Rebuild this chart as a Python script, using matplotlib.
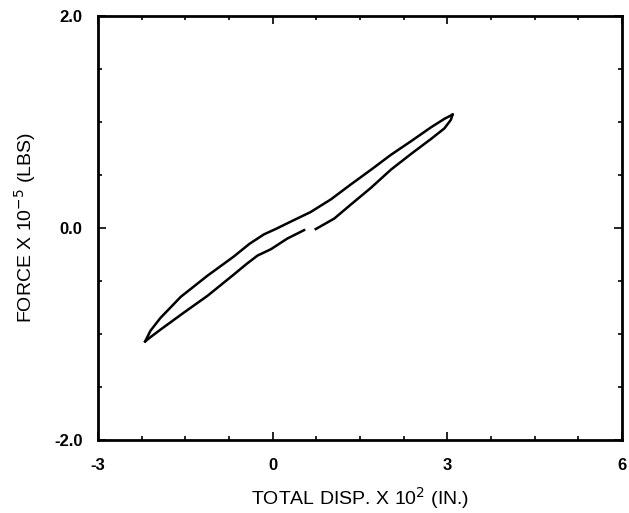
import numpy as np
import matplotlib
matplotlib.use('Agg')
import matplotlib.pyplot as plt
from matplotlib.ticker import MultipleLocator, FixedLocator, FormatStrFormatter

plt.rcParams['font.family'] = ['Liberation Sans', 'DejaVu Sans']
plt.rcParams['axes.unicode_minus'] = False

# loading branch (lower-left tip up to upper-right tip)
up_x = [-2.19, -2.10, -1.93, -1.58, -1.12, -0.67, -0.40, -0.15, 0.05, 0.31,
        0.65, 1.00, 1.34, 1.69, 2.03, 2.38, 2.72, 2.95, 3.09]
up_f = [-1.07, -0.97, -0.85, -0.65, -0.45, -0.27, -0.15, -0.06, -0.01, 0.06,
        0.15, 0.27, 0.41, 0.55, 0.69, 0.82, 0.95, 1.03, 1.07]

# unloading branch, upper-right tip back down (pen lifted near x=0.6)
dn_x = [3.09, 3.06, 2.95, 2.72, 2.38, 2.03, 1.69, 1.34, 1.06, 0.74,
        np.nan,
        0.54, 0.25, -0.03, -0.26, -0.45, -0.67, -1.12, -1.53, -1.93, -2.10, -2.19]
dn_f = [1.07, 1.02, 0.94, 0.84, 0.70, 0.55, 0.38, 0.22, 0.09, -0.01,
        np.nan,
        -0.02, -0.10, -0.20, -0.26, -0.34, -0.44, -0.64, -0.80, -0.96, -1.03, -1.07]

fig = plt.figure(figsize=(6.29, 5.13), dpi=100)
ax = fig.add_axes([98/629, 1-440/513, 524/629, 424/513])

ax.plot(up_x, up_f, color='black', lw=1.8, solid_joinstyle='round')
ax.plot(dn_x, dn_f, color='black', lw=1.8, solid_joinstyle='round')

ax.set_xlim(-3, 6)
ax.set_ylim(-2, 2)
ax.xaxis.set_major_locator(FixedLocator([-3, 0, 3, 6]))
ax.xaxis.set_minor_locator(MultipleLocator(0.75))
ax.yaxis.set_major_locator(FixedLocator([-2, 0, 2]))
ax.yaxis.set_minor_locator(MultipleLocator(0.5))
ax.xaxis.set_major_formatter(FormatStrFormatter('%d'))
ax.yaxis.set_major_formatter(FormatStrFormatter('%.1f'))

ax.tick_params(which='both', direction='in', top=True, right=True, width=1.2)
ax.tick_params(which='major', length=6)
ax.tick_params(which='minor', length=3)
ax.tick_params(axis='x', which='major', pad=13, labelsize=12)
ax.tick_params(axis='y', which='major', pad=11, labelsize=12)
for lab in ax.get_xticklabels() + ax.get_yticklabels():
    lab.set_fontweight('bold')

for sp in ax.spines.values():
    sp.set_linewidth(2)

ax.set_xlabel('TOTAL DISP. X 10$^{2}$ (IN.)', fontsize=14, labelpad=9)
ax.set_ylabel('FORCE X 10$^{-5}$ (LBS)', fontsize=14, labelpad=12)

fig.savefig('out.png', dpi=100)
